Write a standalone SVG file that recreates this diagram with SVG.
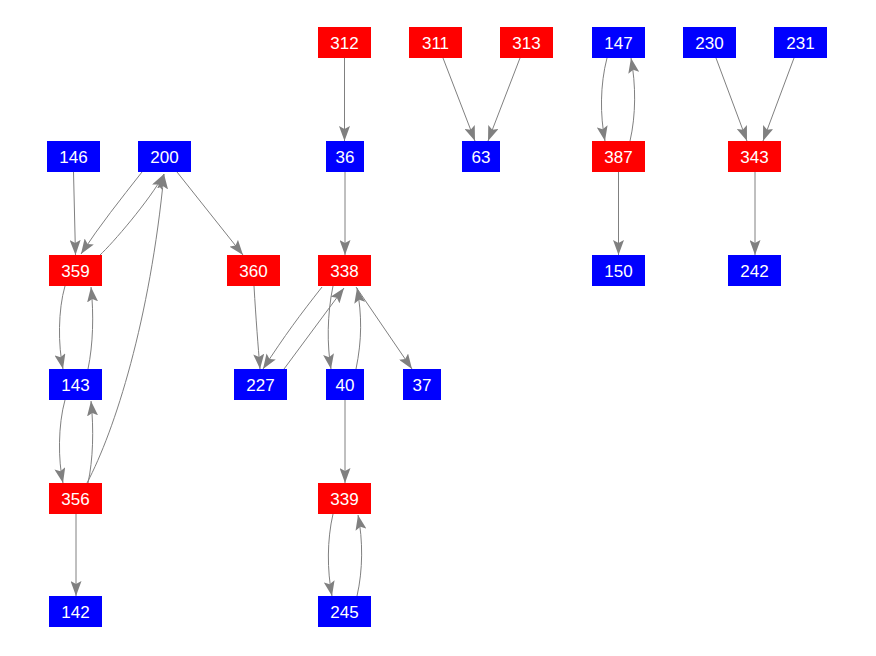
<svg xmlns="http://www.w3.org/2000/svg" width="876" height="656" viewBox="0 0 876 656">
<style>
.r{fill:#ff0000}
.b{fill:#0000ff}
text{font-family:"Liberation Sans",Arial,sans-serif;font-size:17px;fill:#ffffff;text-anchor:middle}
.e path{fill:none;stroke:#808080;stroke-width:1;marker-end:url(#a)}
</style>
<defs>
<marker id="a" markerUnits="userSpaceOnUse" viewBox="0 0 16 11" markerWidth="16" markerHeight="11" refX="15" refY="5.5" orient="auto">
<path d="M0,0 L15,5.5 L0,11 L3,5.5 z" fill="#808080"/>
</marker>
</defs>
<rect width="876" height="656" fill="#ffffff"/>
<g class="e" id="edges">
<path d="M344.5,58 L344.5,141"/>
<path d="M443,58 L475,141"/>
<path d="M520,58 L488,141"/>
<path d="M607,58 C600,85 600,115 605,141"/>
<path d="M630,141 C636,115 636,85 631,58"/>
<path d="M618.5,172 L618.5,255"/>
<path d="M716,58 L747,141"/>
<path d="M794,58 L763,141"/>
<path d="M755,172 L755,255"/>
<path d="M345,172 L345,255"/>
<path d="M73.5,172 L75.5,255"/>
<path d="M142,172 C120,200 100,225 81,254"/>
<path d="M100,255 C112,244 150,200 164,174"/>
<path d="M87,483 C115,430 150,320 164,174"/>
<path d="M177,172 L243,255"/>
<path d="M65,286 C58,310 58,345 63,369"/>
<path d="M88,369 C93,345 94,315 91,287"/>
<path d="M65,400 C58,425 58,460 63,483"/>
<path d="M88,483 C93,460 94,430 91,401"/>
<path d="M76,514 L76,596"/>
<path d="M254,286 C256,320 258,345 260,369"/>
<path d="M322,287 C300,315 285,335 263,369"/>
<path d="M284,369 L344,288"/>
<path d="M333,286 C327,315 327,345 331,369"/>
<path d="M356,369 C362,340 362,315 357,288"/>
<path d="M356,287 L412,369"/>
<path d="M345,400 L345,483"/>
<path d="M333,514 C327,540 327,570 332,596"/>
<path d="M357,596 C363,570 363,540 358,515"/>
</g>
<g id="n312"><rect class="r" x="318" y="27" width="53" height="31"/><text x="344.5" y="49">312</text></g>
<g id="n311"><rect class="r" x="409" y="27" width="53" height="31"/><text x="435.5" y="49">311</text></g>
<g id="n313"><rect class="r" x="500" y="27" width="53" height="31"/><text x="526.5" y="49">313</text></g>
<g id="n147"><rect class="b" x="592" y="27" width="53" height="31"/><text x="618.5" y="49">147</text></g>
<g id="n230"><rect class="b" x="683" y="27" width="53" height="31"/><text x="709.5" y="49">230</text></g>
<g id="n231"><rect class="b" x="774" y="27" width="53" height="31"/><text x="800.5" y="49">231</text></g>
<g id="n146"><rect class="b" x="47" y="141" width="53" height="31"/><text x="73.5" y="163">146</text></g>
<g id="n200"><rect class="b" x="138" y="141" width="53" height="31"/><text x="164.5" y="163">200</text></g>
<g id="n36"><rect class="b" x="326" y="141" width="38" height="31"/><text x="345" y="163">36</text></g>
<g id="n63"><rect class="b" x="462" y="141" width="38" height="31"/><text x="481" y="163">63</text></g>
<g id="n387"><rect class="r" x="592" y="141" width="53" height="31"/><text x="618.5" y="163">387</text></g>
<g id="n343"><rect class="r" x="728" y="141" width="53" height="31"/><text x="754.5" y="163">343</text></g>
<g id="n359"><rect class="r" x="49" y="255" width="53" height="31"/><text x="75.5" y="277">359</text></g>
<g id="n360"><rect class="r" x="227" y="255" width="53" height="31"/><text x="253.5" y="277">360</text></g>
<g id="n338"><rect class="r" x="318" y="255" width="53" height="31"/><text x="344.5" y="277">338</text></g>
<g id="n150"><rect class="b" x="592" y="255" width="53" height="31"/><text x="618.5" y="277">150</text></g>
<g id="n242"><rect class="b" x="728" y="255" width="53" height="31"/><text x="754.5" y="277">242</text></g>
<g id="n143"><rect class="b" x="49" y="369" width="53" height="31"/><text x="75.5" y="391">143</text></g>
<g id="n227"><rect class="b" x="234" y="369" width="53" height="31"/><text x="260.5" y="391">227</text></g>
<g id="n40"><rect class="b" x="326" y="369" width="38" height="31"/><text x="345" y="391">40</text></g>
<g id="n37"><rect class="b" x="403" y="369" width="38" height="31"/><text x="422" y="391">37</text></g>
<g id="n356"><rect class="r" x="49" y="483" width="53" height="31"/><text x="75.5" y="505">356</text></g>
<g id="n339"><rect class="r" x="318" y="483" width="53" height="31"/><text x="344.5" y="505">339</text></g>
<g id="n142"><rect class="b" x="49" y="596" width="53" height="31"/><text x="75.5" y="618">142</text></g>
<g id="n245"><rect class="b" x="318" y="596" width="53" height="31"/><text x="344.5" y="618">245</text></g>
</svg>
